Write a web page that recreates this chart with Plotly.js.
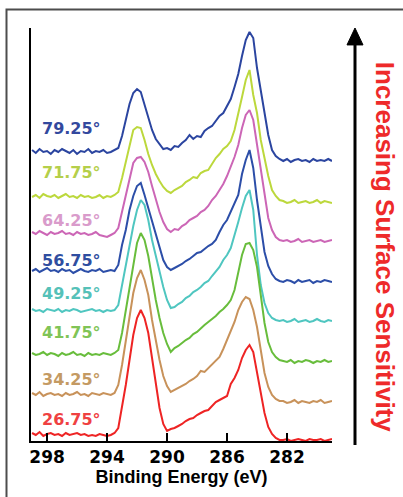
<!DOCTYPE html>
<html>
<head>
<meta charset="utf-8">
<script src="https://cdn.plot.ly/plotly-3.0.1.min.js"></script>
<style>
  html, body { margin: 0; padding: 0; background: #ffffff; }
  #chart { width: 403px; height: 497px; }
</style>
</head>
<body>
<div id="chart"></div>
<script>
// Binding energy grid (eV)
const energy = [
  299.00, 298.75, 298.50, 298.25, 298.00, 297.75, 297.50, 297.25, 297.00, 296.75,
  296.50, 296.25, 296.00, 295.75, 295.50, 295.25, 295.00, 294.75, 294.50, 294.25,
  294.00, 293.75, 293.50, 293.25, 293.00, 292.75, 292.50, 292.25, 292.00, 291.75,
  291.50, 291.25, 291.00, 290.75, 290.50, 290.25, 290.00, 289.75, 289.50, 289.25,
  289.00, 288.75, 288.50, 288.25, 288.00, 287.75, 287.50, 287.25, 287.00, 286.75,
  286.50, 286.25, 286.00, 285.75, 285.50, 285.25, 285.00, 284.75, 284.50, 284.25,
  284.00, 283.75, 283.50, 283.25, 283.00, 282.75, 282.50, 282.25, 282.00, 281.75,
  281.50, 281.25, 281.00, 280.75, 280.50, 280.25, 280.00, 279.75, 279.50, 279.25,
  279.00
];

// Take-off angle labels (top to bottom)
const angles = ["79.25°", "71.75°", "64.25°", "56.75°", "49.25°", "41.75°", "34.25°", "26.75°"];

// Stacked spectra (intensity, arbitrary units, offset as in the figure)
const s7925 = [
  291, 288, 292, 289, 290, 287, 291, 289, 292, 290, 288, 291, 287, 290, 289, 292, 288, 290, 289, 291,
  288, 289, 291, 293, 305, 321, 337, 348, 352, 349, 337, 324, 311, 302, 297, 292, 293, 291, 295, 294,
  298, 301, 306, 302, 305, 304, 310, 313, 315, 320, 325, 328, 335, 342, 354, 367, 385, 401, 409, 403,
  373, 351, 329, 306, 291, 285, 282, 280, 282, 279, 281, 282, 280, 281, 279, 282, 280, 281, 280, 282,
  280
];
const s7175 = [
  244, 246, 243, 247, 245, 244, 246, 243, 245, 247, 244, 245, 243, 246, 244, 245, 243, 244, 246, 243,
  245, 244, 246, 249, 263, 279, 296, 311, 314, 313, 301, 287, 276, 267, 260, 254, 250, 248, 251, 253,
  255, 259, 261, 264, 263, 268, 270, 271, 277, 283, 287, 292, 295, 300, 311, 326, 344, 361, 371, 346,
  328, 301, 281, 265, 251, 245, 241, 240, 238, 239, 241, 238, 239, 240, 238, 239, 241, 238, 240, 239,
  238
];
const s6425 = [
  209, 207, 210, 208, 206, 209, 207, 208, 210, 207, 208, 206, 209, 207, 208, 206, 207, 209, 206, 205,
  204, 206, 208, 213, 229, 248, 264, 278, 283, 284, 279, 269, 255, 241, 229, 219, 212, 209, 212, 211,
  215, 217, 221, 223, 225, 229, 231, 235, 241, 245, 251, 257, 265, 274, 284, 296, 313, 326, 331, 321,
  296, 271, 243, 223, 211, 204, 201, 200, 201, 199, 200, 202, 199, 200, 201, 199, 200, 201, 199, 200,
  201
];
const s5675 = [
  170, 172, 169, 171, 173, 170, 171, 169, 172, 170, 171, 168, 170, 172, 170, 169, 171, 170, 172, 169,
  170, 171, 170, 176, 196, 211, 231, 245, 255, 258, 246, 233, 219, 205, 193, 181, 174, 171, 173, 175,
  177, 180, 182, 185, 188, 189, 192, 195, 197, 201, 209, 216, 221, 229, 237, 246, 267, 281, 291, 273,
  241, 213, 189, 175, 167, 162, 160, 159, 161, 160, 158, 161, 159, 160, 161, 158, 160, 159, 161, 160,
  159
];
const s4925 = [
  132, 130, 131, 129, 132, 131, 130, 132, 129, 131, 130, 132, 131, 129, 130, 131, 132, 130, 131, 129,
  131, 130, 131, 136, 156, 176, 196, 215, 231, 241, 236, 221, 201, 185, 169, 154, 141, 133, 134, 137,
  139, 143, 145, 149, 151, 154, 158, 160, 165, 169, 174, 181, 186, 193, 205, 219, 233, 245, 251, 231,
  186, 156, 138, 128, 123, 121, 120, 121, 119, 120, 122, 119, 120, 121, 119, 120, 122, 120, 119, 121,
  120
];
const s4175 = [
  88, 86, 87, 89, 86, 88, 87, 85, 88, 86, 87, 89, 86, 87, 85, 88, 86, 87, 86, 88,
  87, 86, 88, 91, 108, 131, 153, 179, 198, 208, 201, 185, 161, 141, 123, 108, 97, 89, 93, 95,
  98, 101, 103, 107, 109, 113, 116, 119, 122, 125, 129, 132, 136, 141, 151, 169, 186, 197, 198, 191,
  174, 146, 118, 99, 89, 84, 81, 80, 79, 81, 78, 80, 79, 81, 80, 78, 80, 79, 81, 79,
  80
];
const s3425 = [
  48, 46, 49, 45, 47, 48, 46, 47, 45, 48, 46, 47, 49, 46, 47, 45, 48, 47, 46, 48,
  47, 46, 48, 56, 76, 101, 126, 148, 163, 171, 161, 146, 121, 99, 81, 65, 55, 49, 51, 53,
  55, 57, 60, 62, 65, 70, 69, 73, 76, 81, 84, 92, 101, 109, 119, 131, 139, 144, 142, 131,
  114, 91, 68, 54, 46, 42, 40, 40, 38, 39, 41, 38, 40, 39, 38, 40, 39, 41, 38, 39,
  40
];
const s2675 = [
  8, 6, 9, 5, 7, 8, 6, 7, 5, 8, 6, 7, 8, 6, 7, 5, 6, 5, 7, 6,
  5, 6, 8, 13, 33, 56, 81, 106, 123, 131, 123, 108, 83, 56, 33, 17, 10, 12, 13, 15,
  17, 20, 22, 23, 26, 28, 30, 31, 35, 39, 41, 43, 45, 57, 63, 71, 83, 91, 96, 89,
  69, 46, 28, 14, 7, 3, 1, 1, 2, 0, 1, 2, 1, 0, 2, 1, 1, 2, 0, 1,
  2
];

const seriesValues = [s7925, s7175, s6425, s5675, s4925, s4175, s3425, s2675];
const tickValues = [298, 294, 290, 286, 282];
const tickLabels = ["298", "294", "290", "286", "282"];

// ---- styling (not data) ----
const lineColors  = ["#2b45a0", "#bcd83c", "#cc66b6", "#2c4ea8", "#4fc6c0", "#68bd3c", "#c8925a", "#ee2424"];
const labelColors = ["#33499e", "#b5cf4a", "#d99bcb", "#2f4ea0", "#55c1b8", "#80c456", "#c49a63", "#ef4141"];
const labelYPaper = [0.757, 0.649, 0.533, 0.436, 0.358, 0.263, 0.150, 0.051];

const traces = seriesValues.map((vals, k) => ({
  type: "scatter",
  mode: "lines",
  x: energy,
  y: vals,
  name: angles[k],
  line: { color: lineColors[k], width: 2 },
  hoverinfo: "skip"
}));

const annotations = angles.map((txt, k) => ({
  xref: "paper", yref: "paper",
  x: 0.030, y: labelYPaper[k],
  xanchor: "left", yanchor: "middle",
  text: txt, showarrow: false,
  font: { family: "DejaVu Sans", size: 16, color: labelColors[k], weight: "bold" }
}));

annotations.push({
  xref: "paper", yref: "paper",
  x: 1.175, y: 0.471,
  xanchor: "center", yanchor: "middle",
  text: "Increasing Surface Sensitivity",
  textangle: 90,
  showarrow: false,
  font: { family: "Liberation Sans, Arial, sans-serif", size: 26, color: "#ee2a2a", weight: "bold" }
});

const layout = {
  width: 403, height: 497,
  margin: { l: 31, r: 71, t: 28, b: 56, pad: 0 },
  paper_bgcolor: "#ffffff",
  plot_bgcolor: "#ffffff",
  showlegend: false,
  xaxis: {
    range: [299.07, 279.0],
    tickvals: tickValues,
    ticktext: tickLabels,
    ticks: "inside", ticklen: 8, tickwidth: 2, tickcolor: "#000",
    showline: true, linewidth: 2, linecolor: "#000",
    showgrid: false, zeroline: false,
    tickfont: { family: "DejaVu Sans", size: 17, color: "#000", weight: "bold" },
    title: { text: "Binding Energy (eV)", standoff: 1,
             font: { family: "Liberation Sans, Arial, sans-serif", size: 18, color: "#000", weight: "bold" } }
  },
  yaxis: {
    range: [0, 413],
    showline: true, linewidth: 2, linecolor: "#000",
    showticklabels: false, ticks: "",
    showgrid: false, zeroline: false
  },
  annotations: annotations,
  shapes: [
    // outer frame (top + left visible)
    { type: "rect", xref: "paper", yref: "paper",
      x0: -0.0814, x1: 1.6, y0: -0.5, y1: 1.0448,
      line: { color: "#4d4d4d", width: 2 }, fillcolor: "rgba(0,0,0,0)", layer: "below" },
    // arrow shaft
    { type: "line", xref: "paper", yref: "paper",
      x0: 1.0764, x1: 1.0764, y0: -0.0097, y1: 0.962,
      line: { color: "#000", width: 3 } },
    // arrow head
    { type: "path", xref: "paper", yref: "paper",
      path: "M 1.0764 1.0 L 1.0498 0.959 L 1.1030 0.959 Z",
      fillcolor: "#000", line: { color: "#000", width: 1 } }
  ]
};

Plotly.newPlot("chart", traces, layout, { staticPlot: true, displayModeBar: false });
</script>
</body>
</html>
